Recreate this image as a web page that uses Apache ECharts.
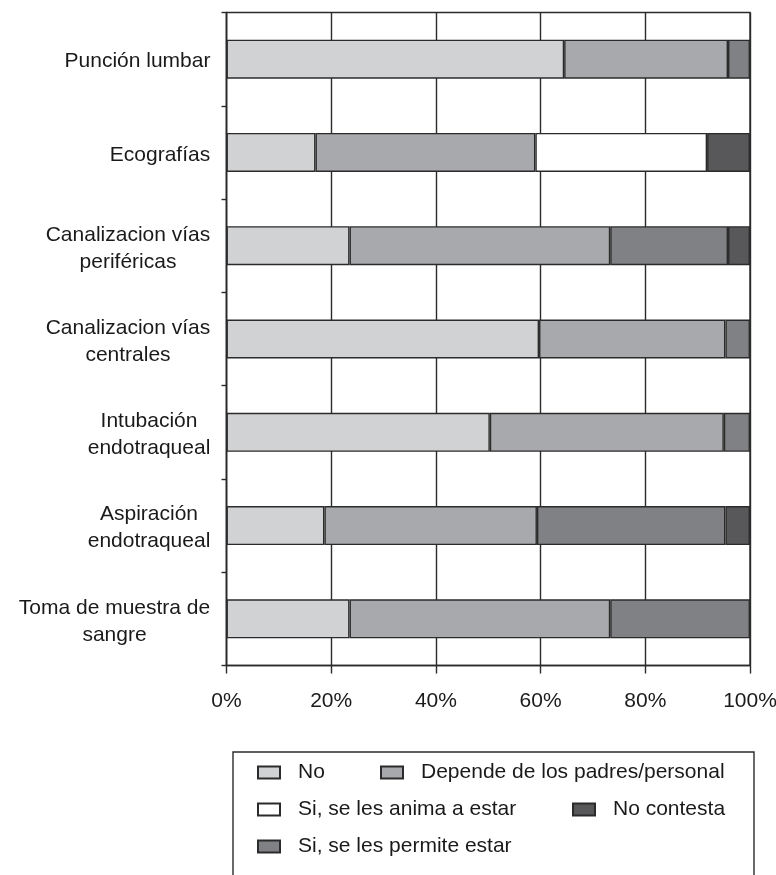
<!DOCTYPE html>
<html>
<head>
<meta charset="utf-8">
<script src="https://cdn.jsdelivr.net/npm/echarts@6/dist/echarts.min.js"></script>
<style>
  html, body { margin: 0; padding: 0; background: #ffffff; }
  #chart { width: 776px; height: 875px; }
</style>
</head>
<body>
<div id="chart"></div>
<script>
// Procedures (top to bottom)
const categories = [
  'Punción lumbar',
  'Ecografías',
  'Canalizacion vías\nperiféricas',
  'Canalizacion vías\ncentrales',
  'Intubación\nendotraqueal',
  'Aspiración\nendotraqueal',
  'Toma de muestra de\nsangre'
];

// Share of answers per procedure (%)
const noValues         = [64.5, 17.0, 23.5, 59.7, 50.3, 18.7, 23.5];
const dependeValues    = [31.3, 42.0, 49.8, 35.6, 44.7, 40.6, 49.8];
const animaValues      = [null, 32.8, null, null, null, null, null];
const permiteValues    = [4.2, null, 22.5, 4.7, 5.0, 36.0, 26.7];
const noContestaValues = [null, 8.2, 4.2, null, null, 4.7, null];

const xTicks = [0, 20, 40, 60, 80, 100];

const seriesNames = {
  no: 'No',
  depende: 'Depende de los padres/personal',
  anima: 'Si, se les anima a estar',
  permite: 'Si, se les permite estar',
  noContesta: 'No contesta'
};

const FONT = '"Liberation Sans", Arial, Helvetica, sans-serif';
const FS = 21;
const TEXT = '#1a1a1a';
const LINE = '#2b2b2b';
const LW = 1.4;

// Category labels: block is right-aligned against the axis, lines centred inside it
const measure = document.createElement('canvas').getContext('2d');
measure.font = FS + 'px ' + FONT;
const rich = {};
categories.forEach((c, i) => {
  const w = Math.max(...c.split('\n').map(l => measure.measureText(l).width));
  rich['c' + i] = { width: Math.ceil(w), align: 'center', fontSize: FS, lineHeight: 27, color: TEXT, fontFamily: FONT };
});

const chart = echarts.init(document.getElementById('chart'), null, { renderer: 'canvas' });

function barSeries(name, data, color) {
  return {
    name: name,
    type: 'bar',
    stack: 'total',
    data: data,
    barWidth: 39,
    itemStyle: { color: color, borderColor: LINE, borderWidth: LW },
    emphasis: { disabled: true }
  };
}

function legendItem(name, left, top) {
  return {
    data: [{ name: name, icon: 'rect' }],
    left: left,
    top: top,
    itemWidth: 22,
    itemHeight: 12,
    padding: 0,
    selectedMode: false,
    textStyle: { fontFamily: FONT, fontSize: FS, color: TEXT, padding: [0, 0, 0, 13] }
  };
}

const option = {
  animation: false,
  backgroundColor: '#ffffff',
  grid: {
    left: 226.5, right: 26, top: 12.5, bottom: 209.5,
    containLabel: false,
    outerBoundsMode: 'none',
    show: true, borderColor: LINE, borderWidth: LW, backgroundColor: 'transparent'
  },
  xAxis: {
    type: 'value',
    min: xTicks[0],
    max: xTicks[xTicks.length - 1],
    interval: 20,
    axisLine: { show: true, lineStyle: { color: LINE, width: LW } },
    axisTick: { show: true, length: 8, lineStyle: { color: LINE, width: LW } },
    splitLine: { show: true, lineStyle: { color: LINE, width: LW } },
    axisLabel: {
      formatter: '{value}%', margin: 25,
      fontFamily: FONT, fontSize: FS, color: TEXT
    }
  },
  yAxis: {
    type: 'category',
    inverse: true,
    data: categories,
    axisLine: { show: true, lineStyle: { color: LINE, width: LW } },
    axisTick: { show: true, length: 5, lineStyle: { color: LINE, width: LW } },
    splitLine: { show: false },
    axisLabel: {
      margin: 16,
      padding: [5, 0, 0, 0],
      formatter: function (value) {
        const i = categories.indexOf(value);
        return value.split('\n').map(l => '{c' + i + '|' + l + '}').join('\n');
      },
      rich: rich
    }
  },
  legend: [
    legendItem(seriesNames.no, 257, 762),
    legendItem(seriesNames.depende, 380, 762),
    legendItem(seriesNames.anima, 257, 799),
    legendItem(seriesNames.noContesta, 572, 799),
    legendItem(seriesNames.permite, 257, 836)
  ],
  graphic: [{
    type: 'rect',
    silent: true,
    shape: { x: 233, y: 752, width: 521, height: 160 },
    style: { fill: 'none', stroke: LINE, lineWidth: LW }
  }],
  series: [
    barSeries(seriesNames.no, noValues, '#d1d2d4'),
    barSeries(seriesNames.depende, dependeValues, '#a8a9ad'),
    barSeries(seriesNames.anima, animaValues, '#ffffff'),
    barSeries(seriesNames.permite, permiteValues, '#808184'),
    barSeries(seriesNames.noContesta, noContestaValues, '#58585a')
  ]
};

chart.setOption(option);
</script>
</body>
</html>
